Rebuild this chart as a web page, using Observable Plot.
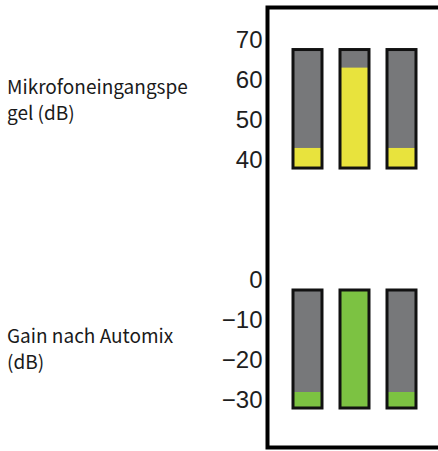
<!DOCTYPE html>
<html><head><meta charset="utf-8">
<script src="https://cdn.jsdelivr.net/npm/d3@7"></script>
<script src="https://cdn.jsdelivr.net/npm/@observablehq/plot@0.6"></script>
<style>
html,body{margin:0;padding:0;background:#fff;}
#chart{position:relative;width:438px;height:451px;overflow:hidden;background:#fff;}
#chart svg{position:absolute;left:0;top:0;max-width:none;}
.lbl{position:absolute;left:7px;font-family:"Noto Sans CJK SC","Noto Sans",sans-serif;font-size:19px;line-height:26px;color:#1a1a1a;white-space:pre;}
</style></head><body>
<div id="chart"></div>
<script>
// ---- data ----
const channels = ["1", "2", "3"];
const micTicks = [40, 50, 60, 70];
const micMeterBottom = 38;
const micMeterTop = 67.5;
const micLevels = [43, 63, 43];
const gainTicks = [-30, -20, -10, 0];
const gainMeterBottom = -32;
const gainMeterTop = -2.5;
const gainLevels = [-28, -2.5, -28];
const sectionLabels = ["Mikrofoneingangspe\ngel (dB)", "Gain nach Automix\n(dB)"];

// ---- build ----
const chart = document.getElementById("chart");
const W = 600, H = 451;
const common = {
  width: W, height: H,
  marginLeft: 267, marginTop: 7, marginBottom: 4, marginRight: 0,
  style: {background: "transparent", fontFamily: "Liberation Sans, Arial, sans-serif", fontSize: "24px", color: "#1e1e1e", overflow: "visible", maxWidth: "none"}
};
const xScale = {domain: channels, range: [275, 434], padding: 0.383, round: false, axis: null};

function section(ticks, lo, hi, levels, yRange, fillColor, withFrame) {
  const rows = channels.map((c, i) => ({ch: c, lo, hi, level: levels[i]}));
  const marks = [];
  if (withFrame) marks.push(Plot.frame({stroke: "#000", strokeWidth: 4}));
  marks.push(
    Plot.barY(rows, {x: "ch", y1: "lo", y2: "hi", fill: "#77787a"}),
    Plot.barY(rows, {x: "ch", y1: "lo", y2: "level", fill: fillColor}),
    Plot.barY(rows, {x: "ch", y1: "lo", y2: "hi", fill: "none", stroke: "#111", strokeWidth: 3}),
    Plot.axisY(ticks, {tickSize: 0, tickPadding: 5, fontSize: 24})
  );
  return Plot.plot({
    ...common,
    x: xScale,
    y: {domain: [ticks[0], ticks[ticks.length - 1]], range: yRange},
    marks
  });
}

chart.append(section(micTicks, micMeterBottom, micMeterTop, micLevels, [160, 39.5], "#e8e33d", true));
chart.append(section(gainTicks, gainMeterBottom, gainMeterTop, gainLevels, [400, 280], "#7cc242", false));

const tops = [73, 322];
sectionLabels.forEach((t, i) => {
  const d = document.createElement("div");
  d.className = "lbl";
  d.style.top = tops[i] + "px";
  d.textContent = t;
  chart.append(d);
});
</script>
</body></html>
